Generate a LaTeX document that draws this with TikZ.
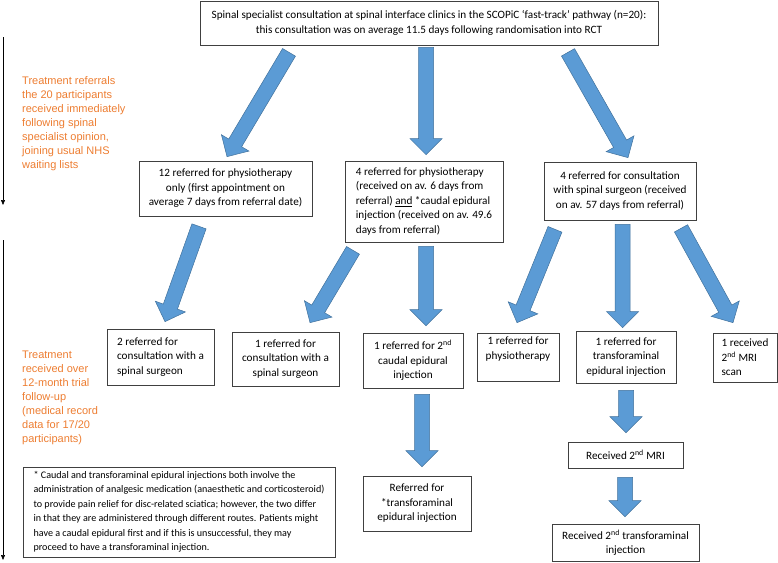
\documentclass[tikz,border=0pt]{standalone}
\usepackage{fontspec}
\setmainfont{Carlito}
\newfontfamily\sidefont{Liberation Sans}
\usetikzlibrary{calc}
\usetikzlibrary{arrows.meta}
\definecolor{arrowblue}{HTML}{5B9BD5}
\definecolor{arrowedge}{HTML}{41719C}
\definecolor{sideorange}{HTML}{ED7D31}
\definecolor{boxline}{HTML}{404040}
\tikzset{
    box/.style = {rectangle, draw=boxline, line width=0.7pt, align=center, inner sep=0pt, font=\fontsize{11.2}{14.5}\selectfont},
    boxl/.style = {box, align=left},
    blockarrow/.style = {fill=arrowblue, draw=arrowedge, line width=0.5pt, line join=miter},
    sidetext/.style = {align=left, inner sep=0pt, anchor=north west, text=sideorange, font=\sidefont\fontsize{11}{14}\selectfont},
    timeline/.style = {-{Triangle[length=5pt,width=4pt]}, line width=0.6pt}
}
% block arrow from #1 to its tip #2
\newcommand{\bluearrow}[2]{%
  \coordinate (ba-s) at (#1);
  \coordinate (ba-e) at (#2);
  \coordinate (ba-h) at ($(ba-e)!16pt!(ba-s)$);
  \filldraw[blockarrow] ($(ba-s)!7.5pt!90:(ba-e)$) -- ($(ba-h)!7.5pt!90:(ba-e)$) -- ($(ba-h)!16pt!90:(ba-e)$) -- (ba-e)
    -- ($(ba-h)!16pt!-90:(ba-e)$) -- ($(ba-h)!7.5pt!-90:(ba-e)$) -- ($(ba-s)!7.5pt!-90:(ba-e)$) -- cycle;}

\begin{document}
\begin{tikzpicture}[x=1pt, y=-1pt]
\useasboundingbox (0, 0) rectangle (778, 562);
%
\node[box, minimum width=458, minimum height=44] at (429, 23) (top) {Spinal specialist consultation at spinal interface clinics in the SCOPiC ‘fast-track’ pathway (n=20):\\ this consultation was on average 11.5 days following randomisation into RCT};
\node[box, minimum width=173, minimum height=55] at (225.5, 188.5) (phys12) {12 referred for physiotherapy\\ only (first appointment on\\ average 7 days from referral date)};
\node[boxl, minimum width=158, minimum height=81] at (424, 201.5) (phys4) {4 referred for physiotherapy\\ (received on av. 6 days from\\ referral) \underline{and} *caudal epidural\\ injection (received on av. 49.6\\ days from referral)};
\node[box, minimum width=152, minimum height=58] at (620, 191) (surg4) {4 referred for consultation\\ with spinal surgeon (received\\ on av. 57 days from referral)};
%
\node[boxl, minimum width=107, minimum height=56] at (160.5, 357) (surg2) {2 referred for\\ consultation with a\\ spinal surgeon};
\node[box, minimum width=107, minimum height=54] at (285.5, 359) (surg1) {1 referred for\\ consultation with a\\ spinal surgeon};
\node[box, minimum width=100, minimum height=55] at (413, 360.5) (caud2) {1 referred for 2\textsuperscript{nd}\\ caudal epidural\\ injection};
\node[box, minimum width=82, minimum height=48, text depth=18pt] at (518, 357) (physio1) {1 referred for\\ physiotherapy};
\node[box, minimum width=100, minimum height=52] at (626, 357) (transf1) {1 referred for\\ transforaminal\\ epidural injection};
\node[boxl, minimum width=64, minimum height=49] at (745, 357.5) (mri1) {1 received\\ 2\textsuperscript{nd} MRI\\ scan};
%
\node[boxl, minimum width=312, minimum height=90, font=\fontsize{10.1}{14.5}\selectfont] at (179, 512) (note) {* Caudal and transforaminal epidural injections both involve the\\ administration of analgesic medication (anaesthetic and corticosteroid)\\ to provide pain relief for disc-related sciatica; however, the two differ\\ in that they are administered through different routes. Patients might\\ have a caudal epidural first and if this is unsuccessful, they may\\ proceed to have a transforaminal injection.};
\node[box, minimum width=108, minimum height=55] at (417, 503.5) (transf2) {Referred for\\ *transforaminal\\ epidural injection};
\node[box, minimum width=115, minimum height=26] at (625.5, 455) (mri2) {Received 2\textsuperscript{nd} MRI};
\node[box, minimum width=147, minimum height=37] at (625.5, 542.5) (transf3) {Received 2\textsuperscript{nd} transforaminal\\ injection};
%
\node[sidetext] at (22, 76) (side1) {Treatment referrals\\ the 20 participants\\ received immediately\\ following spinal\\ specialist opinion,\\ joining usual NHS\\ waiting lists};
\node[sidetext] at (22, 351) (side2) {Treatment\\ received over\\ 12-month trial\\ follow-up\\ (medical record\\ data for 17/20\\ participants)};
%
\coordinate (t1s) at (3, 37);
\coordinate (t1e) at (3, 205);
\coordinate (t2s) at (3, 240);
\coordinate (t2e) at (3, 560);
\draw[timeline] (t1s) -- (t1e);
\draw[timeline] (t2s) -- (t2e);
%
\bluearrow{$(top.south)+(-140, 7)$}{$(phys12.north)+(1.5, -4)$}
\bluearrow{$(top.south)+(-3, 2)$}{$(phys4.north)+(2, -6)$}
\bluearrow{$(top.south)+(139, 7)$}{$(surg4.north)+(8, -4)$}
\bluearrow{$(phys12.south)+(-26.5, 10)$}{$(surg2.north)+(4.5, -7)$}
\bluearrow{$(phys4.south)+(-71, 8)$}{$(surg1.north)+(24.5, -9)$}
\bluearrow{$(phys4.south)+(2, 4)$}{$(caud2.north)+(13, -7)$}
\bluearrow{$(surg4.south)+(-65, 9)$}{$(physio1.north)+(-1, -10)$}
\bluearrow{$(surg4.south)+(2.5, 4)$}{$(transf1.north)+(-3.5, -3)$}
\bluearrow{$(surg4.south)+(61, 8)$}{$(mri1.north)+(-12, -10)$}
\bluearrow{$(caud2.south)+(9, 6)$}{$(transf2.north)+(5, -9)$}
\bluearrow{$(transf1.south)+(0, 7)$}{$(mri2.north)+(0.5, -9)$}
\bluearrow{$(mri2.south)+(-0.5, 9)$}{$(transf3.north)+(-0.5, -7)$}

\end{tikzpicture}
\end{document}
